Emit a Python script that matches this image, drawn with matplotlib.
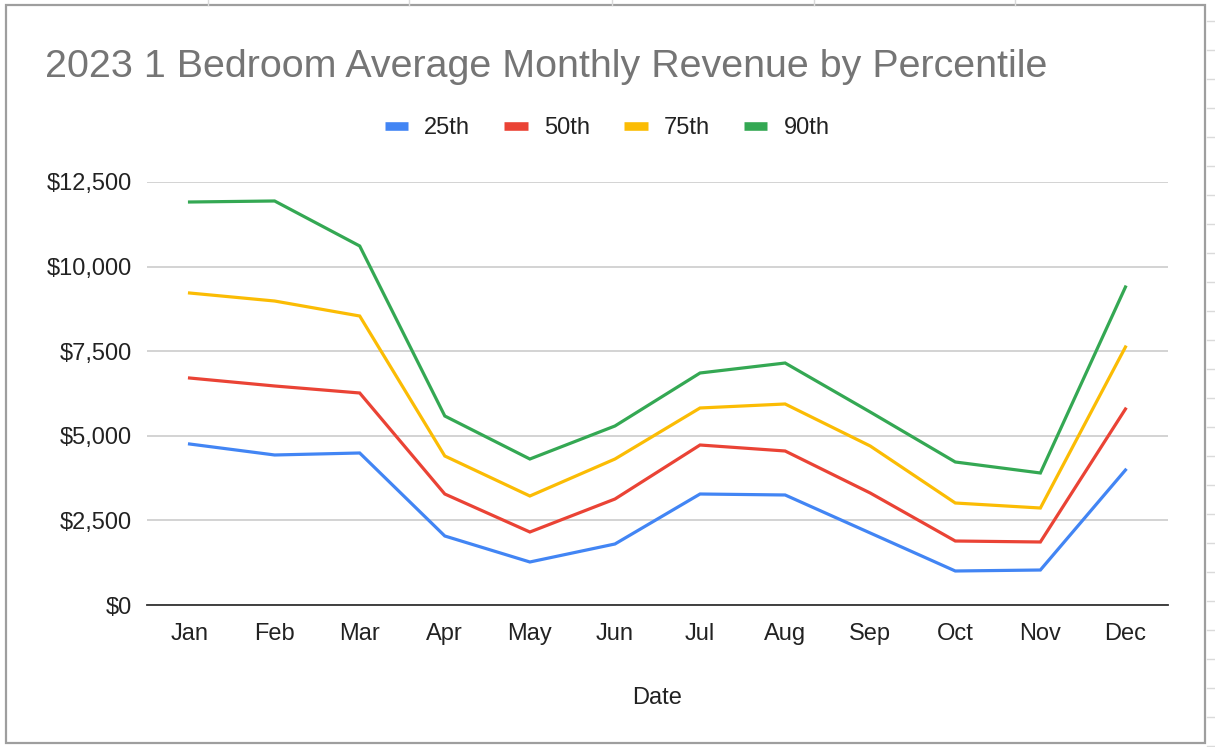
import matplotlib.pyplot as plt
from matplotlib.lines import Line2D
from matplotlib.patches import Rectangle
from matplotlib.ticker import FuncFormatter

plt.rcParams['font.family'] = ['Liberation Sans', 'DejaVu Sans']

# Datos
meses = ['Jan', 'Feb', 'Mar', 'Apr', 'May', 'Jun', 'Jul', 'Aug', 'Sep', 'Oct', 'Nov', 'Dec']
p25 = [4758, 4433, 4492, 2039, 1271, 1803, 3280, 3251, 2128, 1005, 1034, 3989]
p50 = [6708, 6472, 6265, 3280, 2157, 3132, 4728, 4551, 3310, 1891, 1862, 5792]
p75 = [9220, 8983, 8540, 4403, 3221, 4314, 5822, 5940, 4699, 3014, 2866, 7624]
p90 = [11909, 11939, 10609, 5585, 4314, 5290, 6856, 7151, 5703, 4226, 3901, 9397]
yticks = [0, 2500, 5000, 7500, 10000, 12500]

series = [('25th', p25, '#4285F4'), ('50th', p50, '#EA4335'),
          ('75th', p75, '#FBBC04'), ('90th', p90, '#34A853')]

W, H = 1215, 747
fig = plt.figure(figsize=(W / 100, H / 100), dpi=100)

# Fondo de hoja de calculo y marco del grafico
for x in [208, 409, 612, 814, 1015]:
    fig.add_artist(Line2D([x / W, x / W], [1, 1 - 5 / H], color='#dadada', lw=1))
for y in range(21, H, 29):
    fig.add_artist(Line2D([1207 / W, 1], [1 - y / H, 1 - y / H], color='#dadada', lw=1))
fig.add_artist(Rectangle((6 / W, 1 - 743 / H), 1199 / W, 738 / H, fill=False,
                         edgecolor='#9e9e9e', lw=1.6, transform=fig.transFigure))

ax = fig.add_axes([147 / W, 1 - 605 / H, (1168 - 147) / W, (605 - 182) / H])
x = list(range(len(meses)))
for nombre, valores, color in series:
    ax.plot(x, valores, color=color, lw=2.3, label=nombre, solid_joinstyle='miter')

ax.set_xlim(-0.5, 11.5)
ax.set_ylim(0, 12500)
ax.set_yticks(yticks)
ax.yaxis.set_major_formatter(FuncFormatter(lambda v, p: f'${v:,.0f}'))
ax.set_xticks(x)
ax.set_xticklabels(meses)
ax.grid(axis='y', color='#cccccc', lw=1.2)
ax.set_axisbelow(True)
for s in ['top', 'right', 'left']:
    ax.spines[s].set_visible(False)
ax.spines['bottom'].set_color('#333333')
ax.spines['bottom'].set_linewidth(1.3)
ax.tick_params(axis='both', length=0, labelsize=17, labelcolor='#222222')
ax.tick_params(axis='y', pad=11)
ax.tick_params(axis='x', pad=13)
ax.set_xlabel('Date', fontsize=17, color='#222222', labelpad=30)

fig.text(45 / W, 1 - 67 / H, '2023 1 Bedroom Average Monthly Revenue by Percentile',
         fontsize=28.4, color='#757575', va='center', ha='left')

handles = [Line2D([], [], color=c, lw=6.2, solid_capstyle='butt') for _, _, c in series]
fig.legend(handles, [n for n, _, _ in series], loc='center',
           bbox_to_anchor=(607 / W, 1 - 128 / H), ncol=4, frameon=False,
           fontsize=17, handlelength=1.0, handletextpad=0.68,
           columnspacing=1.44, labelcolor='#222222')

fig.savefig('out.png', dpi=100)
